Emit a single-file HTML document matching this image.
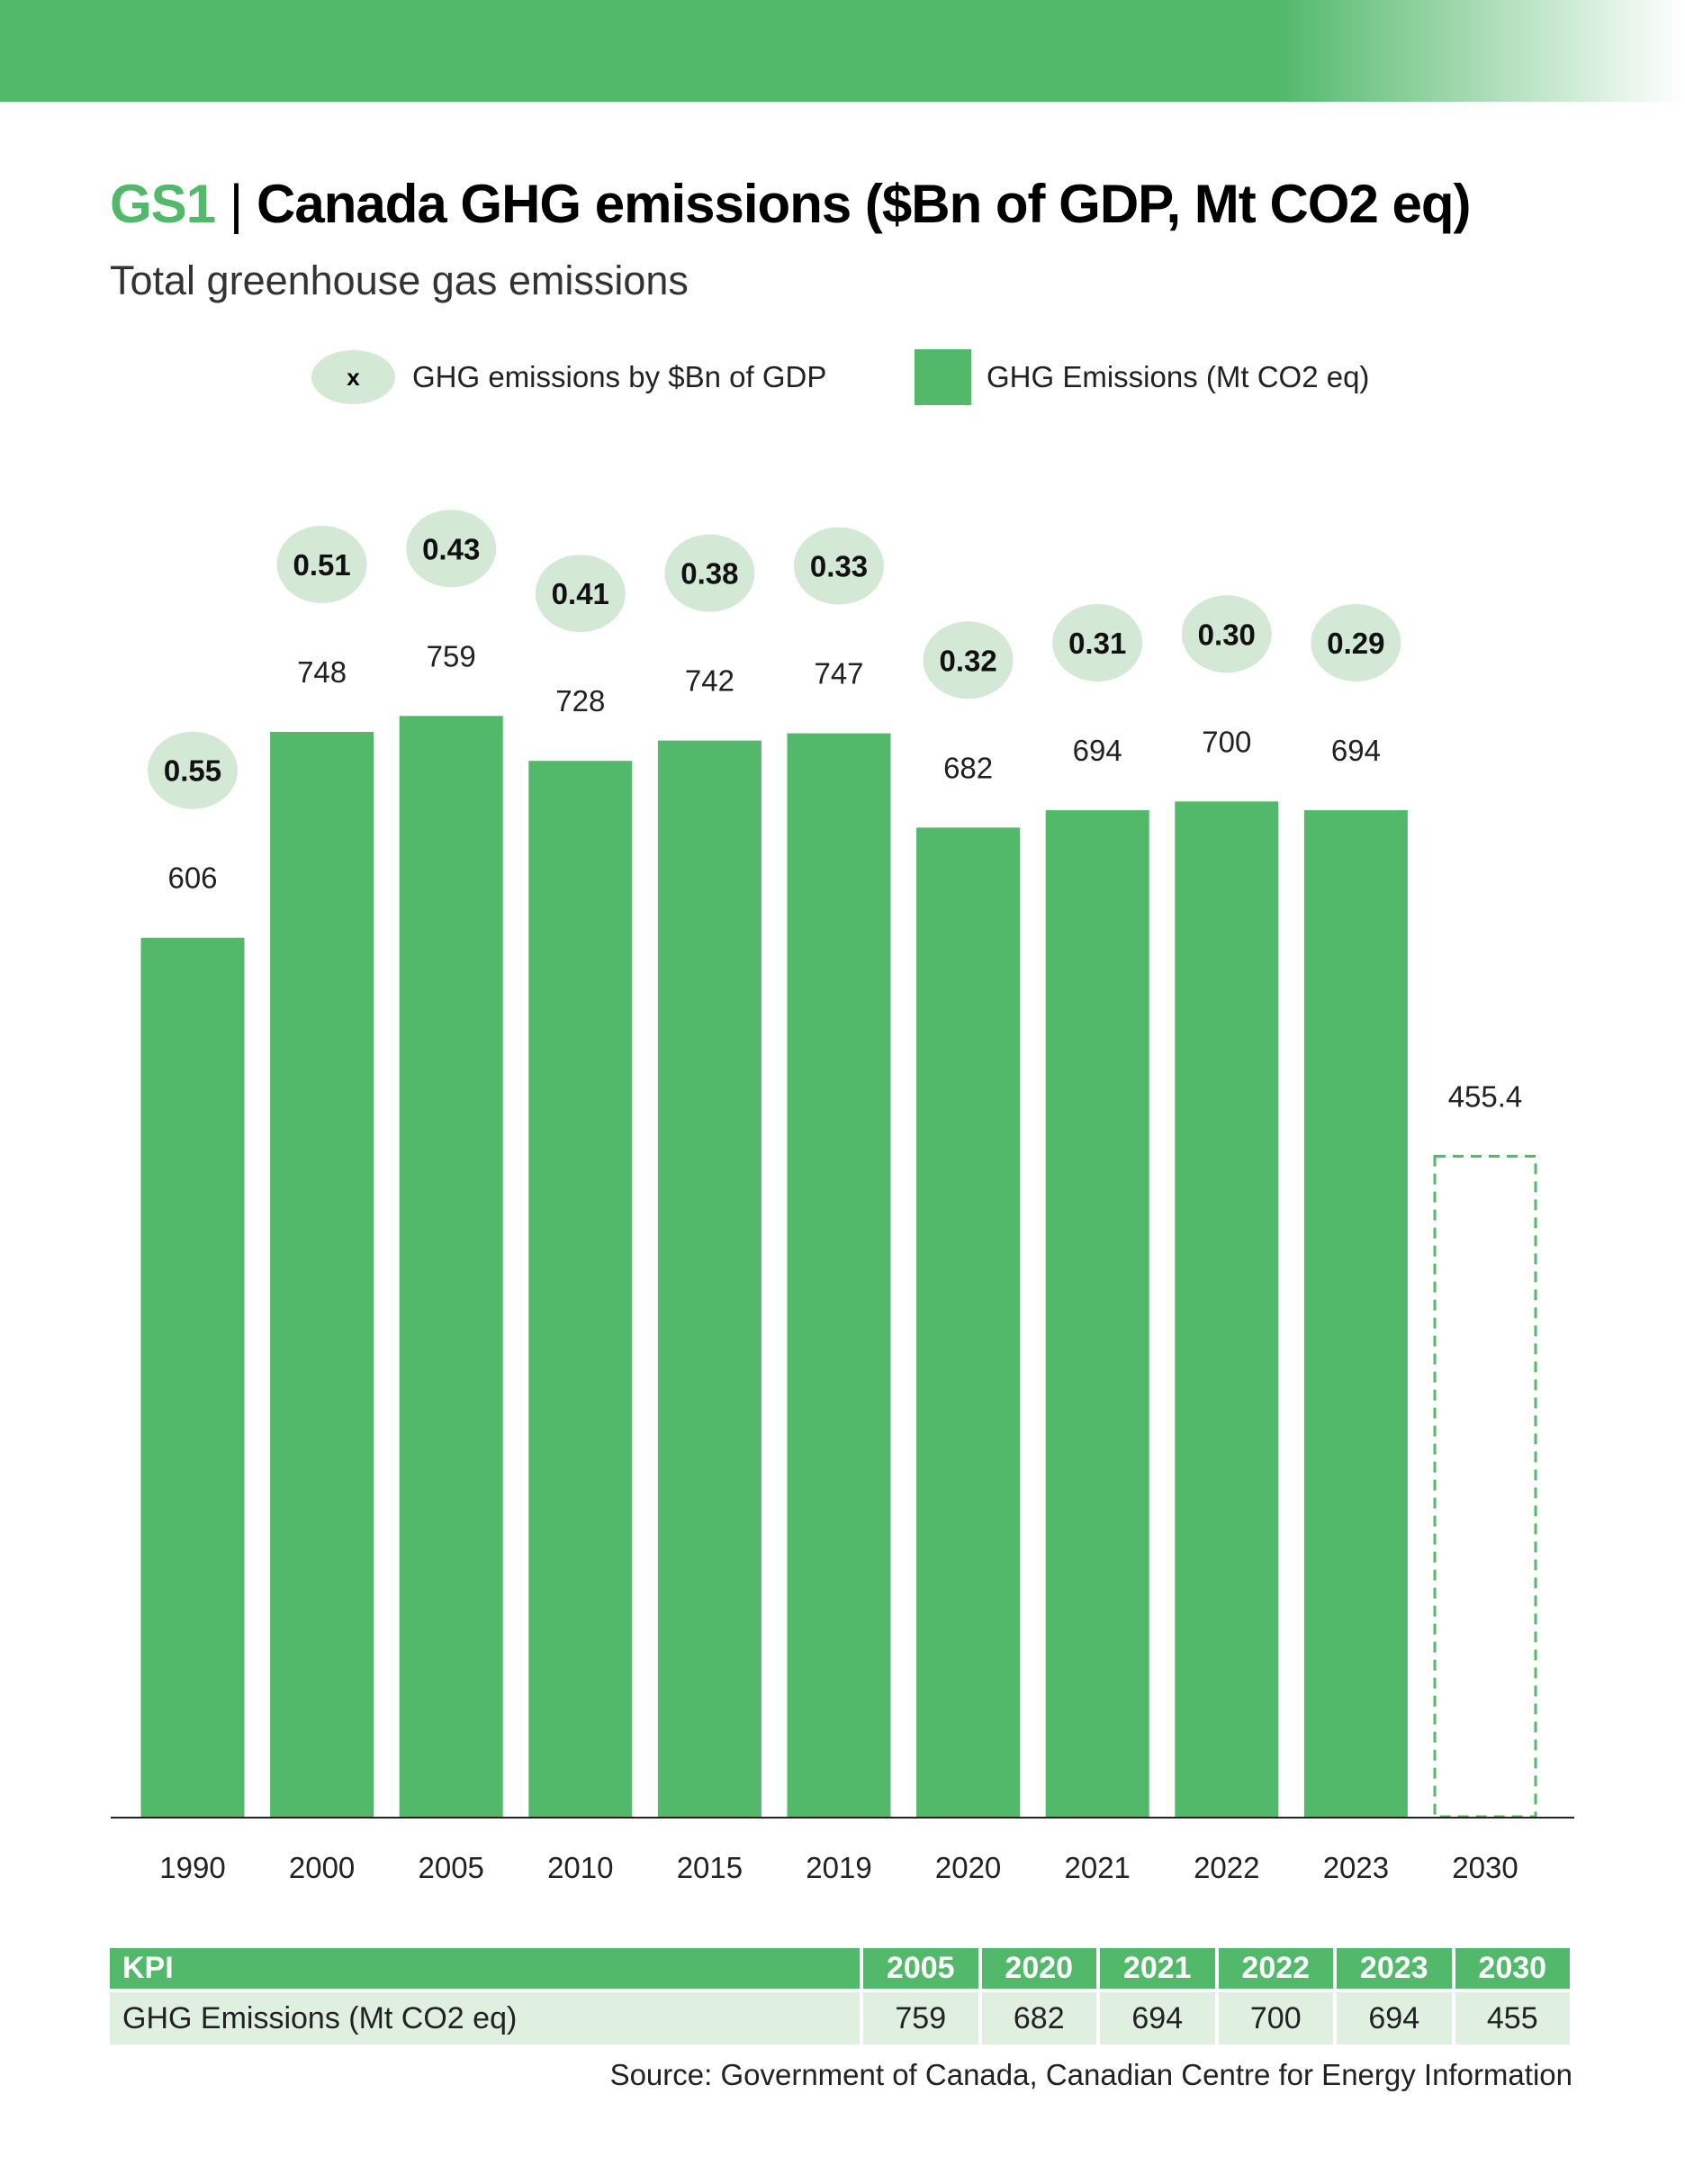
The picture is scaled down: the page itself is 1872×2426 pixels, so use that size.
<!DOCTYPE html>
<html><head><meta charset="utf-8"><style>
body{margin:0;width:1872px;height:2426px;background:#fff;font-family:"Liberation Sans",sans-serif;position:relative;overflow:hidden}
.abs{position:absolute}
td{padding:0}
</style></head><body>
<div class="abs" style="left:0;top:0;width:1872px;height:113px;background:linear-gradient(90deg,#52b96b 0,#52b96b 1420px,#fff 1872px)"></div>
<div class="abs" style="left:122px;top:192px;font-size:60px;font-weight:bold;letter-spacing:-1px;white-space:nowrap"><span style="color:#52b96b">GS1</span> <span style="font-weight:normal">|</span> Canada GHG emissions ($Bn of GDP, Mt CO2 eq)</div>
<div class="abs" style="left:122px;top:286px;font-size:45px;color:#333">Total greenhouse gas emissions</div>
<div class="abs" style="left:346px;top:389px;width:93px;height:60px;border-radius:50%;background:#d3e8d5;text-align:center;line-height:60px;font-size:26px;font-weight:bold">x</div>
<div class="abs" style="left:458px;top:400px;font-size:33px;color:#222">GHG emissions by $Bn of GDP</div>
<div class="abs" style="left:1016px;top:388px;width:63px;height:62px;background:#52b96b"></div>
<div class="abs" style="left:1096px;top:400px;font-size:33px;color:#222">GHG Emissions (Mt CO2 eq)</div>
<svg class="abs" style="left:0;top:0" width="1872" height="2426" id="chart"></svg>
<table class="abs" style="left:118px;top:2160px;width:1630px;table-layout:fixed;border-collapse:separate;border-spacing:4px 4px;font-size:34px">
<colgroup><col style="width:833px"><col><col><col><col><col><col></colgroup>
<tr style="background:#52b96b;color:#fff;font-weight:bold;height:45px">
<td style="padding:0 14px">KPI</td><td style="text-align:center">2005</td><td style="text-align:center">2020</td><td style="text-align:center">2021</td><td style="text-align:center">2022</td><td style="text-align:center">2023</td><td style="text-align:center">2030</td></tr>
<tr style="background:#dff0e1;color:#222;height:58px">
<td style="padding:0 14px">GHG Emissions (Mt CO2 eq)</td><td style="text-align:center">759</td><td style="text-align:center">682</td><td style="text-align:center">694</td><td style="text-align:center">700</td><td style="text-align:center">694</td><td style="text-align:center">455</td></tr>
</table>
<div class="abs" style="right:125px;top:2286px;font-size:33px;color:#222">Source: Government of Canada, Canadian Centre for Energy Information</div>
<script>
const years=["1990","2000","2005","2010","2015","2019","2020","2021","2022","2023","2030"];
const emissions=[606,748,759,728,742,747,682,694,700,694,455.4];
const emissionLabels=["606","748","759","728","742","747","682","694","700","694","455.4"];
const ratios=["0.55","0.51","0.43","0.41","0.38","0.33","0.32","0.31","0.30","0.29",null];
const NS="http://www.w3.org/2000/svg";
const svg=document.getElementById('chart');
const base=2018, scaleY=1.611, x0=214, step=143.6, bw=115;
const xc=i=>x0+i*step;
const yv=v=>base-v*scaleY;
function mk(t,a){const e=document.createElementNS(NS,t);for(const k in a)e.setAttribute(k,a[k]);svg.appendChild(e);return e;}
years.forEach((yr,i)=>{
  const v=emissions[i],top=yv(v),proj=i===years.length-1;
  const r=mk('rect',{x:xc(i)-bw/2+(proj?1.5:0),y:top,width:bw-(proj?3:0),height:base-top,
    fill:proj?'none':'#52b96b',stroke:proj?'#52b96b':'none','stroke-width':3,'stroke-dasharray':proj?'12 8':''});
  
  
  const t=mk('text',{x:xc(i),y:top-55,'text-anchor':'middle','font-size':33,fill:'#222'});
  t.textContent=emissionLabels[i];
  
  
  const yl=mk('text',{x:xc(i),y:2086,'text-anchor':'middle','font-size':33,fill:'#222'});
  yl.textContent=yr;
  
  
  if(ratios[i]){
    const cy=top-186;
    const el=mk('ellipse',{cx:xc(i),cy:cy,rx:50,ry:43,fill:'#d3e8d5'});
    
    
    const rt=mk('text',{x:xc(i),y:cy+12,'text-anchor':'middle','font-size':33,'font-weight':'bold',fill:'#111'});
    rt.textContent=ratios[i];
    
    
  }
});
const ax=mk('line',{x1:123,x2:1749,y1:base+1,y2:base+1,stroke:'#222','stroke-width':2});


</script>
</body></html>
